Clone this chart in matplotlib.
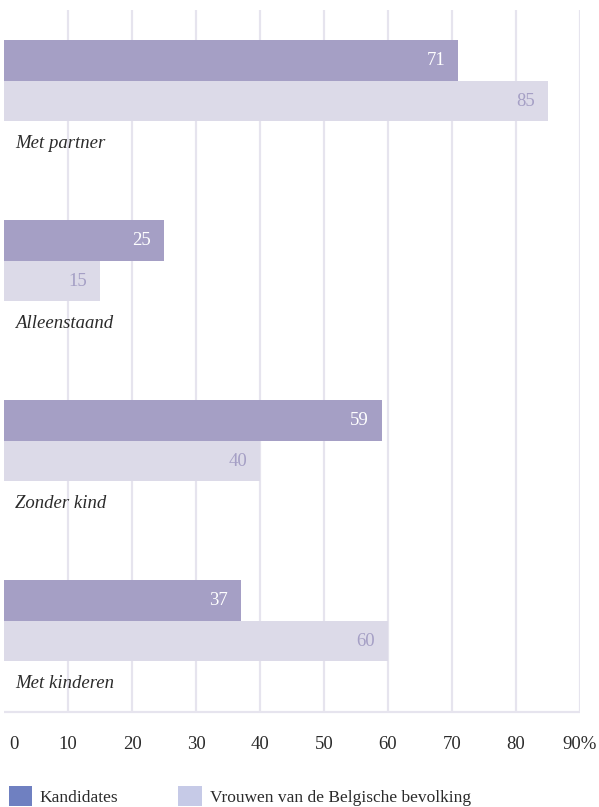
import matplotlib
matplotlib.use("Agg")
import matplotlib.pyplot as plt
import matplotlib.transforms as mtransforms
from matplotlib.patches import Patch
import numpy as np

# ── data ──────────────────────────────────────────
categories  = ["Met partner", "Alleenstaand", "Zonder kind", "Met kinderen"]
kandidates  = [71, 25, 59, 37]
vrouwen     = [85, 15, 40, 60]
x_ticks     = [0, 10, 20, 30, 40, 50, 60, 70, 80, 90]
x_ticklabels = ["0", "10", "20", "30", "40", "50", "60", "70", "80", "90%"]
legend_labels = ["Kandidates", "Vrouwen van de Belgische bevolking"]

# ── style ─────────────────────────────────────────
DARK_BAR   = "#a59fc5"
LIGHT_BAR  = "#dcdae8"
GRID       = "#e6e4ee"
TEXT       = "#2b2b2b"
LEG_DARK   = "#6f80c1"
LEG_LIGHT  = "#c6cae7"
BAR_H      = 0.225

plt.rcParams["font.family"] = ["Liberation Serif", "DejaVu Serif"]

W, H = 599, 807
fig = plt.figure(figsize=(W / 100, H / 100), dpi=100)
ax = fig.add_axes([4 / W, 1 - 712 / H, 576 / W, 702 / H])

y = np.arange(len(categories))
ax.barh(y - BAR_H / 2, kandidates, height=BAR_H, color=DARK_BAR, zorder=2)
ax.barh(y + BAR_H / 2, vrouwen, height=BAR_H, color=LIGHT_BAR, zorder=2)

# value labels inside the bar ends, category name under each pair
pad = mtransforms.ScaledTranslation(-13 / 100, 0, fig.dpi_scale_trans)
for yi, k, v in zip(y, kandidates, vrouwen):
    ax.text(k, yi - BAR_H / 2, str(k), ha="right", va="center",
            color="white", fontsize=13.5, zorder=3,
            transform=ax.transData + pad)
    ax.text(v, yi + BAR_H / 2, str(v), ha="right", va="center",
            color=DARK_BAR, fontsize=13.5, zorder=3,
            transform=ax.transData + pad)
    ax.text(1.7, yi + 0.345, categories[int(yi)], ha="left", va="center",
            style="italic", color=TEXT, fontsize=13.5)

ax.set_xlim(0, 90)
ax.set_ylim(3 + 0.506, -0.394)

# grid
for xt in x_ticks[1:]:
    ax.axvline(xt, color=GRID, lw=1.6, zorder=1)
ax.axhline(3 + 0.506, color=GRID, lw=1.6, zorder=1, clip_on=False,
           solid_capstyle="butt")

for s in ax.spines.values():
    s.set_visible(False)
ax.set_yticks([])
ax.set_xticks(x_ticks)
ax.set_xticklabels(x_ticklabels, fontsize=13.5, color=TEXT)
ax.tick_params(axis="x", length=0, pad=17)
first = ax.get_xticklabels()[0]
first.set_transform(first.get_transform() +
                    mtransforms.ScaledTranslation(10 / 100, 0, fig.dpi_scale_trans))

# legend
handles = [Patch(facecolor=LEG_DARK, edgecolor="none"),
           Patch(facecolor=LEG_LIGHT, edgecolor="none")]
fig.legend(handles, legend_labels, loc="center left",
           bbox_to_anchor=(-7 / W, 1 - 796 / H), ncol=2, frameon=False,
           fontsize=12.5, handlelength=1.35, handleheight=1.4,
           handletextpad=0.45, columnspacing=3.45, labelcolor=TEXT)

fig.savefig("out.png", dpi=100)
